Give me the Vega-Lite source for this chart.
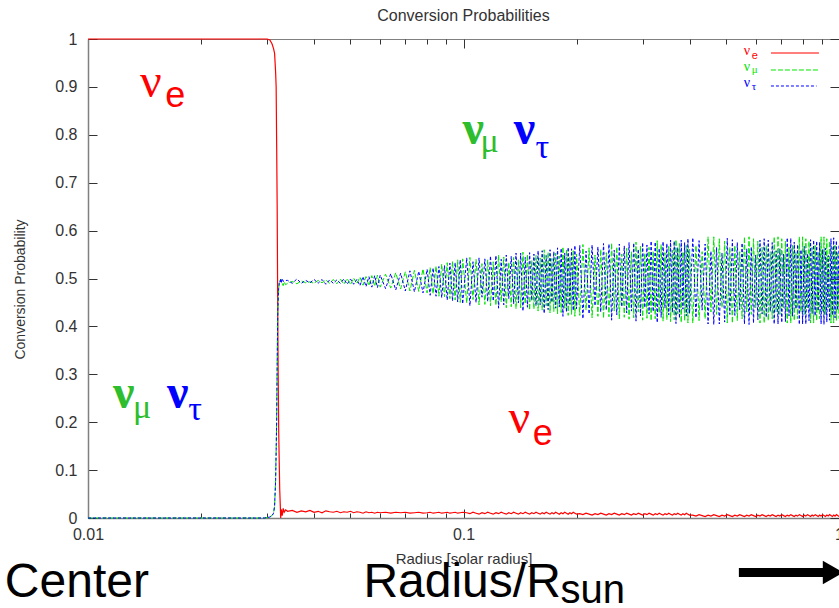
{
"$schema":"https://vega.github.io/schema/vega-lite/v6.json",
"width":751,"height":479,
"autosize":"none",
"padding":{"left":88,"top":39,"right":0,"bottom":90},
"background":"white",
"config":{"view":{"stroke":"#808080","strokeWidth":1},"font":"Liberation Sans"},
"title":{"text":"Conversion Probabilities","font":"Liberation Sans","fontSize":16,"fontWeight":"normal","color":"#333333","anchor":"middle","baseline":"alphabetic","offset":-6},
"datasets":{"prob":[
{"r":0.01,"e":1,"m":0,"t":0},
{"r":0.02,"e":1,"m":0,"t":0},
{"r":0.028,"e":1,"m":0,"t":0},
{"r":0.0295,"e":1,"m":0,"t":0},
{"r":0.03,"e":1,"m":0.001,"t":0.001},
{"r":0.0305,"e":0.998,"m":0.002,"t":0.002},
{"r":0.0309,"e":0.99,"m":0.005,"t":0.005},
{"r":0.0312,"e":0.98,"m":0.01,"t":0.01},
{"r":0.0314,"e":0.97,"m":0.025,"t":0.025},
{"r":0.0316,"e":0.93,"m":0.08,"t":0.08},
{"r":0.0317,"e":0.9,"m":0.14,"t":0.14},
{"r":0.0318,"e":0.78,"m":0.2,"t":0.2},
{"r":0.0319,"e":0.65,"m":0.32,"t":0.32},
{"r":0.032,"e":0.45,"m":0.42,"t":0.42},
{"r":0.0321,"e":0.3,"m":0.46,"t":0.46},
{"r":0.0322,"e":0.18,"m":0.48,"t":0.48},
{"r":0.0323,"e":0.12,"m":0.49,"t":0.49},
{"r":0.0324,"e":0.06,"m":0.495,"t":0.495},
{"r":0.0325,"e":0.03,"m":0.497,"t":0.493},
{"r":0.0326,"e":0.0,"m":0.499,"t":0.5},
{"r":0.0327,"e":0.018,"m":0.492,"t":0.49},
{"r":0.0329,"e":0.005,"m":0.49,"t":0.5},
{"r":0.0331,"e":0.02,"m":0.485,"t":0.494},
{"r":0.0333,"e":0.012,"m":0.493,"t":0.495},
{"r":0.0336,"e":0.017,"m":0.487,"t":0.496},
{"r":0.034,"e":0.014,"m":0.49,"t":0.496},
{"r":0.035,"e":0.016,"m":0.494,"t":0.49},
{"r":0.036,"e":0.012,"m":0.489,"t":0.499},
{"r":0.037,"e":0.015,"m":0.495,"t":0.49},
{"r":0.038,"e":0.013,"m":0.491,"t":0.496},
{"r":0.039,"e":0.016,"m":0.493,"t":0.491},
{"r":0.04,"e":0.012,"m":0.49,"t":0.498},
{"r":0.041,"e":0.014,"m":0.496,"t":0.49},
{"r":0.042,"e":0.011,"m":0.491,"t":0.498},
{"r":0.043,"e":0.015,"m":0.497,"t":0.488},
{"r":0.044,"e":0.013,"m":0.49,"t":0.497},
{"r":0.045,"e":0.012,"m":0.498,"t":0.49},
{"r":0.046,"e":0.014,"m":0.489,"t":0.497},
{"r":0.047,"e":0.011,"m":0.499,"t":0.49},
{"r":0.048,"e":0.013,"m":0.488,"t":0.499},
{"r":0.049,"e":0.012,"m":0.5,"t":0.488},
{"r":0.05,"e":0.014,"m":0.487,"t":0.499},
{"r":0.051,"e":0.011,"m":0.501,"t":0.488},
{"r":0.052,"e":0.013,"m":0.489,"t":0.498},
{"r":0.053,"e":0.012,"m":0.503,"t":0.485},
{"r":0.054,"e":0.01,"m":0.486,"t":0.504},
{"r":0.055,"e":0.013,"m":0.504,"t":0.483},
{"r":0.056,"e":0.011,"m":0.485,"t":0.504},
{"r":0.057,"e":0.012,"m":0.506,"t":0.482},
{"r":0.058,"e":0.01,"m":0.484,"t":0.506},
{"r":0.059,"e":0.012,"m":0.507,"t":0.481},
{"r":0.06,"e":0.011,"m":0.482,"t":0.507},
{"r":0.062,"e":0.012,"m":0.509,"t":0.479},
{"r":0.064,"e":0.01,"m":0.48,"t":0.51},
{"r":0.066,"e":0.012,"m":0.512,"t":0.476},
{"r":0.068,"e":0.011,"m":0.478,"t":0.511},
{"r":0.07,"e":0.012,"m":0.514,"t":0.474},
{"r":0.072,"e":0.01,"m":0.474,"t":0.516},
{"r":0.074,"e":0.011,"m":0.517,"t":0.472},
{"r":0.076,"e":0.012,"m":0.473,"t":0.515},
{"r":0.078,"e":0.01,"m":0.52,"t":0.47},
{"r":0.08,"e":0.011,"m":0.47,"t":0.519},
{"r":0.0815,"e":0.012,"m":0.523,"t":0.465},
{"r":0.083,"e":0.01,"m":0.468,"t":0.522},
{"r":0.0845,"e":0.011,"m":0.526,"t":0.463},
{"r":0.086,"e":0.012,"m":0.463,"t":0.525},
{"r":0.0875,"e":0.01,"m":0.53,"t":0.46},
{"r":0.089,"e":0.011,"m":0.462,"t":0.527},
{"r":0.0905,"e":0.012,"m":0.533,"t":0.455},
{"r":0.092,"e":0.01,"m":0.458,"t":0.532},
{"r":0.0935,"e":0.011,"m":0.536,"t":0.453},
{"r":0.095,"e":0.012,"m":0.455,"t":0.533},
{"r":0.0965,"e":0.01,"m":0.539,"t":0.451},
{"r":0.098,"e":0.011,"m":0.45,"t":0.539},
{"r":0.0995,"e":0.012,"m":0.541,"t":0.447},
{"r":0.102,"e":0.011,"m":0.449,"t":0.543},
{"r":0.104,"e":0.009,"m":0.544,"t":0.443},
{"r":0.106,"e":0.012,"m":0.456,"t":0.535},
{"r":0.108,"e":0.01,"m":0.54,"t":0.45},
{"r":0.11,"e":0.008,"m":0.445,"t":0.543},
{"r":0.112,"e":0.011,"m":0.531,"t":0.461},
{"r":0.114,"e":0.009,"m":0.446,"t":0.541},
{"r":0.116,"e":0.012,"m":0.539,"t":0.452},
{"r":0.118,"e":0.01,"m":0.443,"t":0.547},
{"r":0.12,"e":0.008,"m":0.535,"t":0.453},
{"r":0.122,"e":0.011,"m":0.444,"t":0.548},
{"r":0.124,"e":0.009,"m":0.549,"t":0.438},
{"r":0.126,"e":0.012,"m":0.451,"t":0.54},
{"r":0.128,"e":0.01,"m":0.545,"t":0.445},
{"r":0.13,"e":0.008,"m":0.439,"t":0.549},
{"r":0.132,"e":0.011,"m":0.534,"t":0.458},
{"r":0.134,"e":0.009,"m":0.441,"t":0.546},
{"r":0.136,"e":0.012,"m":0.544,"t":0.447},
{"r":0.138,"e":0.01,"m":0.437,"t":0.553},
{"r":0.14,"e":0.008,"m":0.539,"t":0.449},
{"r":0.142,"e":0.011,"m":0.439,"t":0.553},
{"r":0.144,"e":0.009,"m":0.555,"t":0.432},
{"r":0.146,"e":0.012,"m":0.447,"t":0.544},
{"r":0.148,"e":0.01,"m":0.55,"t":0.44},
{"r":0.15,"e":0.008,"m":0.434,"t":0.554},
{"r":0.152,"e":0.011,"m":0.538,"t":0.454},
{"r":0.154,"e":0.009,"m":0.436,"t":0.551},
{"r":0.156,"e":0.012,"m":0.548,"t":0.443},
{"r":0.158,"e":0.01,"m":0.432,"t":0.558},
{"r":0.16,"e":0.008,"m":0.543,"t":0.445},
{"r":0.162,"e":0.011,"m":0.434,"t":0.558},
{"r":0.164,"e":0.009,"m":0.56,"t":0.427},
{"r":0.166,"e":0.012,"m":0.443,"t":0.548},
{"r":0.168,"e":0.01,"m":0.555,"t":0.435},
{"r":0.17,"e":0.008,"m":0.428,"t":0.56},
{"r":0.172,"e":0.011,"m":0.542,"t":0.45},
{"r":0.174,"e":0.009,"m":0.431,"t":0.556},
{"r":0.176,"e":0.012,"m":0.553,"t":0.438},
{"r":0.178,"e":0.01,"m":0.426,"t":0.564},
{"r":0.18,"e":0.008,"m":0.547,"t":0.441},
{"r":0.182,"e":0.011,"m":0.429,"t":0.563},
{"r":0.184,"e":0.009,"m":0.566,"t":0.421},
{"r":0.186,"e":0.012,"m":0.438,"t":0.553},
{"r":0.188,"e":0.01,"m":0.56,"t":0.43},
{"r":0.19,"e":0.008,"m":0.423,"t":0.565},
{"r":0.192,"e":0.011,"m":0.546,"t":0.446},
{"r":0.194,"e":0.009,"m":0.425,"t":0.562},
{"r":0.196,"e":0.012,"m":0.558,"t":0.433},
{"r":0.198,"e":0.01,"m":0.421,"t":0.569},
{"r":0.2,"e":0.008,"m":0.551,"t":0.437},
{"r":0.204,"e":0.009,"m":0.423,"t":0.569},
{"r":0.208,"e":0.007,"m":0.571,"t":0.416},
{"r":0.212,"e":0.01,"m":0.434,"t":0.557},
{"r":0.216,"e":0.008,"m":0.564,"t":0.426},
{"r":0.22,"e":0.006,"m":0.418,"t":0.57},
{"r":0.224,"e":0.009,"m":0.549,"t":0.443},
{"r":0.228,"e":0.007,"m":0.421,"t":0.566},
{"r":0.232,"e":0.01,"m":0.561,"t":0.43},
{"r":0.236,"e":0.008,"m":0.417,"t":0.573},
{"r":0.24,"e":0.006,"m":0.554,"t":0.434},
{"r":0.244,"e":0.009,"m":0.42,"t":0.572},
{"r":0.248,"e":0.007,"m":0.574,"t":0.413},
{"r":0.252,"e":0.01,"m":0.432,"t":0.559},
{"r":0.256,"e":0.008,"m":0.566,"t":0.424},
{"r":0.26,"e":0.006,"m":0.416,"t":0.572},
{"r":0.264,"e":0.009,"m":0.551,"t":0.441},
{"r":0.268,"e":0.007,"m":0.419,"t":0.568},
{"r":0.272,"e":0.01,"m":0.563,"t":0.428},
{"r":0.276,"e":0.008,"m":0.415,"t":0.575},
{"r":0.28,"e":0.006,"m":0.556,"t":0.432},
{"r":0.284,"e":0.009,"m":0.418,"t":0.574},
{"r":0.288,"e":0.007,"m":0.576,"t":0.411},
{"r":0.292,"e":0.01,"m":0.43,"t":0.561},
{"r":0.296,"e":0.008,"m":0.568,"t":0.422},
{"r":0.3,"e":0.006,"m":0.413,"t":0.575},
{"r":0.304,"e":0.009,"m":0.553,"t":0.439},
{"r":0.308,"e":0.007,"m":0.417,"t":0.57},
{"r":0.312,"e":0.01,"m":0.565,"t":0.426},
{"r":0.316,"e":0.008,"m":0.412,"t":0.578},
{"r":0.32,"e":0.006,"m":0.557,"t":0.431},
{"r":0.324,"e":0.009,"m":0.416,"t":0.576},
{"r":0.328,"e":0.007,"m":0.579,"t":0.408},
{"r":0.332,"e":0.01,"m":0.428,"t":0.563},
{"r":0.336,"e":0.008,"m":0.571,"t":0.419},
{"r":0.34,"e":0.006,"m":0.411,"t":0.577},
{"r":0.344,"e":0.009,"m":0.554,"t":0.438},
{"r":0.348,"e":0.007,"m":0.414,"t":0.573},
{"r":0.352,"e":0.01,"m":0.567,"t":0.424},
{"r":0.356,"e":0.008,"m":0.41,"t":0.58},
{"r":0.36,"e":0.006,"m":0.559,"t":0.429},
{"r":0.364,"e":0.009,"m":0.414,"t":0.578},
{"r":0.368,"e":0.007,"m":0.581,"t":0.406},
{"r":0.372,"e":0.01,"m":0.426,"t":0.565},
{"r":0.376,"e":0.008,"m":0.573,"t":0.417},
{"r":0.38,"e":0.006,"m":0.408,"t":0.58},
{"r":0.384,"e":0.009,"m":0.556,"t":0.436},
{"r":0.388,"e":0.007,"m":0.412,"t":0.575},
{"r":0.392,"e":0.01,"m":0.569,"t":0.422},
{"r":0.396,"e":0.008,"m":0.407,"t":0.583},
{"r":0.4,"e":0.006,"m":0.561,"t":0.427},
{"r":0.408,"e":0.006,"m":0.407,"t":0.585},
{"r":0.416,"e":0.004,"m":0.569,"t":0.418},
{"r":0.424,"e":0.007,"m":0.412,"t":0.579},
{"r":0.432,"e":0.005,"m":0.556,"t":0.434},
{"r":0.44,"e":0.003,"m":0.416,"t":0.572},
{"r":0.448,"e":0.006,"m":0.587,"t":0.405},
{"r":0.456,"e":0.004,"m":0.43,"t":0.557},
{"r":0.464,"e":0.007,"m":0.587,"t":0.404},
{"r":0.472,"e":0.005,"m":0.425,"t":0.565},
{"r":0.48,"e":0.003,"m":0.583,"t":0.405},
{"r":0.488,"e":0.006,"m":0.439,"t":0.553},
{"r":0.496,"e":0.004,"m":0.578,"t":0.409},
{"r":0.504,"e":0.007,"m":0.407,"t":0.584},
{"r":0.512,"e":0.005,"m":0.565,"t":0.425},
{"r":0.52,"e":0.003,"m":0.407,"t":0.581},
{"r":0.528,"e":0.006,"m":0.569,"t":0.423},
{"r":0.536,"e":0.004,"m":0.412,"t":0.575},
{"r":0.544,"e":0.007,"m":0.556,"t":0.435},
{"r":0.552,"e":0.005,"m":0.416,"t":0.574},
{"r":0.56,"e":0.003,"m":0.587,"t":0.405},
{"r":0.568,"e":0.006,"m":0.43,"t":0.562},
{"r":0.576,"e":0.004,"m":0.587,"t":0.404},
{"r":0.584,"e":0.007,"m":0.425,"t":0.566},
{"r":0.592,"e":0.005,"m":0.583,"t":0.407},
{"r":0.6,"e":0.003,"m":0.439,"t":0.549},
{"r":0.608,"e":0.006,"m":0.578,"t":0.414},
{"r":0.616,"e":0.004,"m":0.407,"t":0.58},
{"r":0.624,"e":0.007,"m":0.565,"t":0.426},
{"r":0.632,"e":0.005,"m":0.407,"t":0.583},
{"r":0.64,"e":0.003,"m":0.569,"t":0.419},
{"r":0.648,"e":0.006,"m":0.412,"t":0.58},
{"r":0.656,"e":0.004,"m":0.556,"t":0.431},
{"r":0.664,"e":0.007,"m":0.416,"t":0.575},
{"r":0.672,"e":0.005,"m":0.587,"t":0.405},
{"r":0.68,"e":0.003,"m":0.43,"t":0.558},
{"r":0.688,"e":0.006,"m":0.587,"t":0.405},
{"r":0.696,"e":0.004,"m":0.425,"t":0.562},
{"r":0.704,"e":0.007,"m":0.583,"t":0.408},
{"r":0.712,"e":0.005,"m":0.439,"t":0.551},
{"r":0.72,"e":0.003,"m":0.578,"t":0.41},
{"r":0.728,"e":0.006,"m":0.407,"t":0.585},
{"r":0.736,"e":0.004,"m":0.565,"t":0.422},
{"r":0.744,"e":0.007,"m":0.407,"t":0.584},
{"r":0.752,"e":0.005,"m":0.569,"t":0.421},
{"r":0.76,"e":0.003,"m":0.412,"t":0.576},
{"r":0.768,"e":0.006,"m":0.556,"t":0.436},
{"r":0.776,"e":0.004,"m":0.416,"t":0.571},
{"r":0.784,"e":0.007,"m":0.587,"t":0.404},
{"r":0.792,"e":0.005,"m":0.43,"t":0.56},
{"r":0.8,"e":0.003,"m":0.587,"t":0.405},
{"r":0.808,"e":0.006,"m":0.425,"t":0.567},
{"r":0.816,"e":0.004,"m":0.583,"t":0.405},
{"r":0.824,"e":0.007,"m":0.439,"t":0.552},
{"r":0.832,"e":0.005,"m":0.578,"t":0.412},
{"r":0.84,"e":0.003,"m":0.407,"t":0.581},
{"r":0.848,"e":0.006,"m":0.565,"t":0.427},
{"r":0.856,"e":0.004,"m":0.407,"t":0.58},
{"r":0.864,"e":0.007,"m":0.569,"t":0.422},
{"r":0.872,"e":0.005,"m":0.412,"t":0.578},
{"r":0.88,"e":0.003,"m":0.556,"t":0.432},
{"r":0.888,"e":0.006,"m":0.416,"t":0.576},
{"r":0.896,"e":0.004,"m":0.587,"t":0.405},
{"r":0.904,"e":0.007,"m":0.43,"t":0.561},
{"r":0.912,"e":0.005,"m":0.587,"t":0.404},
{"r":0.92,"e":0.003,"m":0.425,"t":0.563},
{"r":0.928,"e":0.006,"m":0.583,"t":0.409},
{"r":0.936,"e":0.004,"m":0.439,"t":0.548},
{"r":0.944,"e":0.007,"m":0.578,"t":0.413},
{"r":0.952,"e":0.005,"m":0.407,"t":0.583},
{"r":0.96,"e":0.003,"m":0.565,"t":0.423},
{"r":0.968,"e":0.006,"m":0.407,"t":0.585},
{"r":0.976,"e":0.004,"m":0.569,"t":0.418},
{"r":0.984,"e":0.007,"m":0.412,"t":0.579},
{"r":0.992,"e":0.005,"m":0.556,"t":0.434},
{"r":1.0,"e":0.003,"m":0.416,"t":0.572}
]},
"resolve":{"axis":{"x":"independent","y":"independent"}},
"layer":[
{"data":{"name":"prob"},"mark":{"type":"line","color":"#ff0000","strokeWidth":1.2},
 "encoding":{
  "x":{"field":"r","type":"quantitative","scale":{"type":"log","domain":[0.01,1],"nice":false},
   "axis":{"orient":"bottom","values":[0.01,0.02,0.03,0.04,0.05,0.06,0.07,0.08,0.09,0.1,0.2,0.3,0.4,0.5,0.6,0.7,0.8,0.9,1],
    "labelExpr":"(datum.value==0.01||datum.value==0.1||datum.value==1) ? format(datum.value,'~g') : ''",
    "tickSize":{"condition":{"test":"datum.value==0.01||datum.value==0.1||datum.value==1","value":-9},"value":-5},
    "tickColor":"#333333","tickWidth":1,"domainColor":"#808080","domainWidth":1.5,"grid":false,
    "labelFont":"Liberation Sans","labelFontSize":16,"labelColor":"#333333","labelPadding":17,"labelOverlap":false,"labelFlush":false,"labelBound":false,
    "title":"Radius [solar radius]","titleFont":"Liberation Sans","titleFontSize":15,"titleFontWeight":"normal","titleColor":"#333333","titleBaseline":"alphabetic","titleY":45}},
  "y":{"field":"e","type":"quantitative","scale":{"domain":[0,1],"nice":false},
   "axis":{"orient":"left","values":[0,0.1,0.2,0.3,0.4,0.5,0.6,0.7,0.8,0.9,1],"format":"~g",
    "tickSize":-9,"tickColor":"#333333","domainColor":"#808080","domainWidth":1.5,"grid":false,
    "labelFont":"Liberation Sans","labelFontSize":16,"labelColor":"#333333","labelPadding":20,"labelOverlap":false,
    "title":"Conversion Probability","titleFont":"Liberation Sans","titleFontSize":14,"titleFontWeight":"normal","titleColor":"#333333","titleX":-61,"titleY":250,"titleAngle":-90,"titleBaseline":"bottom","titleAlign":"center"}}}},
{"data":{"name":"prob"},"mark":{"type":"line","color":"#00e600","strokeWidth":1,"strokeDash":[5,2]},
 "encoding":{
  "x":{"field":"r","type":"quantitative","scale":{"type":"log","domain":[0.01,1],"nice":false},
   "axis":{"orient":"top","values":[0.01,0.02,0.03,0.04,0.05,0.06,0.07,0.08,0.09,0.1,0.2,0.3,0.4,0.5,0.6,0.7,0.8,0.9,1],
    "labels":false,"title":null,"domain":false,"grid":false,"tickColor":"#333333",
    "tickSize":{"condition":{"test":"datum.value==0.01||datum.value==0.1||datum.value==1","value":-9},"value":-5}}},
  "y":{"field":"m","type":"quantitative","scale":{"domain":[0,1],"nice":false},
   "axis":{"orient":"right","values":[0,0.1,0.2,0.3,0.4,0.5,0.6,0.7,0.8,0.9,1],"labels":false,"title":null,"domain":false,"grid":false,"tickSize":-9,"tickColor":"#333333"}}}},
{"data":{"name":"prob"},"mark":{"type":"line","color":"#0000ff","strokeWidth":1,"strokeDash":[3,2]},
 "encoding":{
  "x":{"field":"r","type":"quantitative","scale":{"type":"log","domain":[0.01,1],"nice":false},"axis":null},
  "y":{"field":"t","type":"quantitative","scale":{"domain":[0,1],"nice":false},"axis":null}}},

{"data":{"values":[{}]},"mark":{"type":"text","text":"ν","font":"Liberation Serif","fontSize":48,"color":"#ff0000","align":"left","baseline":"alphabetic"},
 "encoding":{"x":{"datum":0.01376,"type":"quantitative","scale":{"type":"log","domain":[0.01,1],"nice":false},"axis":null},"y":{"datum":0.879,"type":"quantitative","scale":{"domain":[0,1],"nice":false},"axis":null}}},
{"data":{"values":[{}]},"mark":{"type":"text","text":"e","font":"Liberation Sans","fontSize":36,"color":"#ff0000","align":"left","baseline":"alphabetic"},
 "encoding":{"x":{"datum":0.01605,"type":"quantitative","scale":{"type":"log","domain":[0.01,1],"nice":false},"axis":null},"y":{"datum":0.857,"type":"quantitative","scale":{"domain":[0,1],"nice":false},"axis":null}}},

{"data":{"values":[{}]},"mark":{"type":"text","text":"ν","font":"Liberation Serif","fontSize":48,"fontWeight":"bold","color":"#2dbd2d","align":"left","baseline":"alphabetic"},
 "encoding":{"x":{"datum":0.0994,"type":"quantitative","scale":{"type":"log","domain":[0.01,1],"nice":false},"axis":null},"y":{"datum":0.781,"type":"quantitative","scale":{"domain":[0,1],"nice":false},"axis":null}}},
{"data":{"values":[{}]},"mark":{"type":"text","text":"μ","font":"Liberation Serif","fontSize":34,"color":"#2dbd2d","align":"left","baseline":"alphabetic"},
 "encoding":{"x":{"datum":0.111,"type":"quantitative","scale":{"type":"log","domain":[0.01,1],"nice":false},"axis":null},"y":{"datum":0.764,"type":"quantitative","scale":{"domain":[0,1],"nice":false},"axis":null}}},
{"data":{"values":[{}]},"mark":{"type":"text","text":"ν","font":"Liberation Serif","fontSize":48,"fontWeight":"bold","color":"#0000ff","align":"left","baseline":"alphabetic"},
 "encoding":{"x":{"datum":0.136,"type":"quantitative","scale":{"type":"log","domain":[0.01,1],"nice":false},"axis":null},"y":{"datum":0.781,"type":"quantitative","scale":{"domain":[0,1],"nice":false},"axis":null}}},
{"data":{"values":[{}]},"mark":{"type":"text","text":"τ","font":"Liberation Serif","fontSize":34,"color":"#0000ff","align":"left","baseline":"alphabetic"},
 "encoding":{"x":{"datum":0.1556,"type":"quantitative","scale":{"type":"log","domain":[0.01,1],"nice":false},"axis":null},"y":{"datum":0.752,"type":"quantitative","scale":{"domain":[0,1],"nice":false},"axis":null}}},

{"data":{"values":[{}]},"mark":{"type":"text","text":"ν","font":"Liberation Serif","fontSize":48,"fontWeight":"bold","color":"#2dbd2d","align":"left","baseline":"alphabetic"},
 "encoding":{"x":{"datum":0.01166,"type":"quantitative","scale":{"type":"log","domain":[0.01,1],"nice":false},"axis":null},"y":{"datum":0.2296,"type":"quantitative","scale":{"domain":[0,1],"nice":false},"axis":null}}},
{"data":{"values":[{}]},"mark":{"type":"text","text":"μ","font":"Liberation Serif","fontSize":34,"color":"#2dbd2d","align":"left","baseline":"alphabetic"},
 "encoding":{"x":{"datum":0.01318,"type":"quantitative","scale":{"type":"log","domain":[0.01,1],"nice":false},"axis":null},"y":{"datum":0.2088,"type":"quantitative","scale":{"domain":[0,1],"nice":false},"axis":null}}},
{"data":{"values":[{}]},"mark":{"type":"text","text":"ν","font":"Liberation Serif","fontSize":48,"fontWeight":"bold","color":"#0000ff","align":"left","baseline":"alphabetic"},
 "encoding":{"x":{"datum":0.01624,"type":"quantitative","scale":{"type":"log","domain":[0.01,1],"nice":false},"axis":null},"y":{"datum":0.2296,"type":"quantitative","scale":{"domain":[0,1],"nice":false},"axis":null}}},
{"data":{"values":[{}]},"mark":{"type":"text","text":"τ","font":"Liberation Serif","fontSize":34,"color":"#0000ff","align":"left","baseline":"alphabetic"},
 "encoding":{"x":{"datum":0.01848,"type":"quantitative","scale":{"type":"log","domain":[0.01,1],"nice":false},"axis":null},"y":{"datum":0.2046,"type":"quantitative","scale":{"domain":[0,1],"nice":false},"axis":null}}},

{"data":{"values":[{}]},"mark":{"type":"text","text":"ν","font":"Liberation Serif","fontSize":48,"color":"#ff0000","align":"left","baseline":"alphabetic"},
 "encoding":{"x":{"datum":0.1318,"type":"quantitative","scale":{"type":"log","domain":[0.01,1],"nice":false},"axis":null},"y":{"datum":0.1775,"type":"quantitative","scale":{"domain":[0,1],"nice":false},"axis":null}}},
{"data":{"values":[{}]},"mark":{"type":"text","text":"e","font":"Liberation Sans","fontSize":36,"color":"#ff0000","align":"left","baseline":"alphabetic"},
 "encoding":{"x":{"datum":0.1528,"type":"quantitative","scale":{"type":"log","domain":[0.01,1],"nice":false},"axis":null},"y":{"datum":0.1524,"type":"quantitative","scale":{"domain":[0,1],"nice":false},"axis":null}}},

{"data":{"values":[{}]},"mark":{"type":"text","text":"ν","font":"Liberation Serif","fontSize":14,"color":"#ff0000","align":"left","baseline":"alphabetic"},
 "encoding":{"x":{"datum":0.558,"type":"quantitative","scale":{"type":"log","domain":[0.01,1],"nice":false},"axis":null},"y":{"datum":0.9666,"type":"quantitative","scale":{"domain":[0,1],"nice":false},"axis":null}}},
{"data":{"values":[{}]},"mark":{"type":"text","text":"e","font":"Liberation Sans","fontSize":11,"color":"#ff0000","align":"left","baseline":"alphabetic"},
 "encoding":{"x":{"datum":0.5861,"type":"quantitative","scale":{"type":"log","domain":[0.01,1],"nice":false},"axis":null},"y":{"datum":0.9582,"type":"quantitative","scale":{"domain":[0,1],"nice":false},"axis":null}}},
{"data":{"values":[{}]},"mark":{"type":"text","text":"ν","font":"Liberation Serif","fontSize":14,"color":"#00e600","align":"left","baseline":"alphabetic"},
 "encoding":{"x":{"datum":0.558,"type":"quantitative","scale":{"type":"log","domain":[0.01,1],"nice":false},"axis":null},"y":{"datum":0.9332,"type":"quantitative","scale":{"domain":[0,1],"nice":false},"axis":null}}},
{"data":{"values":[{}]},"mark":{"type":"text","text":"μ","font":"Liberation Serif","fontSize":11,"color":"#00e600","align":"left","baseline":"alphabetic"},
 "encoding":{"x":{"datum":0.5861,"type":"quantitative","scale":{"type":"log","domain":[0.01,1],"nice":false},"axis":null},"y":{"datum":0.929,"type":"quantitative","scale":{"domain":[0,1],"nice":false},"axis":null}}},
{"data":{"values":[{}]},"mark":{"type":"text","text":"ν","font":"Liberation Serif","fontSize":14,"color":"#0000ff","align":"left","baseline":"alphabetic"},
 "encoding":{"x":{"datum":0.558,"type":"quantitative","scale":{"type":"log","domain":[0.01,1],"nice":false},"axis":null},"y":{"datum":0.8998,"type":"quantitative","scale":{"domain":[0,1],"nice":false},"axis":null}}},
{"data":{"values":[{}]},"mark":{"type":"text","text":"τ","font":"Liberation Serif","fontSize":11,"color":"#0000ff","align":"left","baseline":"alphabetic"},
 "encoding":{"x":{"datum":0.5861,"type":"quantitative","scale":{"type":"log","domain":[0.01,1],"nice":false},"axis":null},"y":{"datum":0.8935,"type":"quantitative","scale":{"domain":[0,1],"nice":false},"axis":null}}},
{"data":{"values":[{}]},"mark":{"type":"rule","color":"#ff0000","strokeWidth":1.2},
 "encoding":{"x":{"datum":0.6588,"type":"quantitative","scale":{"type":"log","domain":[0.01,1],"nice":false},"axis":null},"x2":{"datum":0.8844},"y":{"datum":0.9708,"type":"quantitative","scale":{"domain":[0,1],"nice":false},"axis":null}}},
{"data":{"values":[{}]},"mark":{"type":"rule","color":"#00e600","strokeWidth":1,"strokeDash":[5,2]},
 "encoding":{"x":{"datum":0.6588,"type":"quantitative","scale":{"type":"log","domain":[0.01,1],"nice":false},"axis":null},"x2":{"datum":0.8844},"y":{"datum":0.9353,"type":"quantitative","scale":{"domain":[0,1],"nice":false},"axis":null}}},
{"data":{"values":[{}]},"mark":{"type":"rule","color":"#0000ff","strokeWidth":1,"strokeDash":[3,2]},
 "encoding":{"x":{"datum":0.6588,"type":"quantitative","scale":{"type":"log","domain":[0.01,1],"nice":false},"axis":null},"x2":{"datum":0.8713},"y":{"datum":0.9019,"type":"quantitative","scale":{"domain":[0,1],"nice":false},"axis":null}}},

{"data":{"values":[{}]},"mark":{"type":"text","text":"Center","font":"Liberation Sans","fontSize":48,"color":"#000000","align":"left","baseline":"alphabetic"},
 "encoding":{"x":{"datum":0.006006,"type":"quantitative","scale":{"type":"log","domain":[0.01,1],"nice":false},"axis":null},"y":{"datum":-0.1649,"type":"quantitative","scale":{"domain":[0,1],"nice":false},"axis":null}}},
{"data":{"values":[{}]},"mark":{"type":"text","text":"Radius/R","font":"Liberation Sans","fontSize":48,"color":"#000000","align":"left","baseline":"alphabetic"},
 "encoding":{"x":{"datum":0.05412,"type":"quantitative","scale":{"type":"log","domain":[0.01,1],"nice":false},"axis":null},"y":{"datum":-0.1649,"type":"quantitative","scale":{"domain":[0,1],"nice":false},"axis":null}}},
{"data":{"values":[{}]},"mark":{"type":"text","text":"sun","font":"Liberation Sans","fontSize":40,"color":"#000000","align":"left","baseline":"alphabetic"},
 "encoding":{"x":{"datum":0.1814,"type":"quantitative","scale":{"type":"log","domain":[0.01,1],"nice":false},"axis":null},"y":{"datum":-0.1775,"type":"quantitative","scale":{"domain":[0,1],"nice":false},"axis":null}}},
{"data":{"values":[{}]},"mark":{"type":"rule","color":"#000000","strokeWidth":9},
 "encoding":{"x":{"datum":0.5412,"type":"quantitative","scale":{"type":"log","domain":[0.01,1],"nice":false},"axis":null},"x2":{"datum":0.9066},"y":{"datum":-0.1138,"type":"quantitative","scale":{"domain":[0,1],"nice":false},"axis":null}}},
{"data":{"values":[{}]},"mark":{"type":"point","shape":"triangle-right","filled":true,"color":"#000000","size":550,"opacity":1},
 "encoding":{"x":{"datum":0.9638,"type":"quantitative","scale":{"type":"log","domain":[0.01,1],"nice":false},"axis":null},"y":{"datum":-0.1138,"type":"quantitative","scale":{"domain":[0,1],"nice":false},"axis":null}}}
]
}
